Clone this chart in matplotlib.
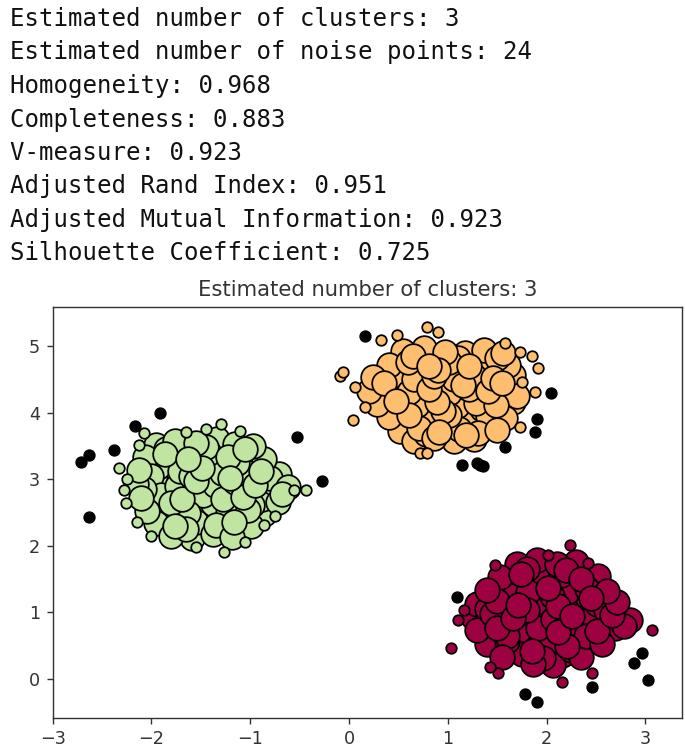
import matplotlib
matplotlib.use("Agg")
import matplotlib.pyplot as plt
import numpy as np

# ---- printed metrics ----
report_lines = [
    "Estimated number of clusters: 3",
    "Estimated number of noise points: 24",
    "Homogeneity: 0.968",
    "Completeness: 0.883",
    "V-measure: 0.923",
    "Adjusted Rand Index: 0.951",
    "Adjusted Mutual Information: 0.923",
    "Silhouette Coefficient: 0.725",
]
title = "Estimated number of clusters: 3"

# ---- cluster 0 (dark red) ----
red_core_x = [1.70, 1.90, 2.10, 2.30,
              1.53, 1.74, 1.94, 2.15, 2.35, 2.52,
              1.40, 1.60, 1.81, 2.01, 2.21, 2.41, 2.61,
              1.30, 1.50, 1.71, 1.91, 2.11, 2.31, 2.51, 2.71,
              1.25, 1.45, 1.66, 1.86, 2.06, 2.26, 2.46, 2.66, 2.84,
              1.30, 1.50, 1.71, 1.91, 2.11, 2.31, 2.51, 2.69,
              1.40, 1.60, 1.81, 2.01, 2.21, 2.41, 2.56,
              1.55, 1.75, 1.96, 2.16, 2.35,
              1.86, 2.06,
              1.80, 2.20, 1.65, 2.05, 2.45, 1.40, 1.80, 2.20, 2.60,
              1.60, 2.00, 2.40, 1.85, 2.25, 2.78, 1.35]
red_core_y = [1.73, 1.78, 1.72, 1.76,
              1.53, 1.57, 1.51, 1.56, 1.50, 1.54,
              1.33, 1.37, 1.31, 1.36, 1.30, 1.35, 1.32,
              1.13, 1.17, 1.11, 1.16, 1.10, 1.15, 1.12, 1.16,
              0.93, 0.97, 0.91, 0.96, 0.90, 0.95, 0.92, 0.96, 0.89,
              0.73, 0.77, 0.71, 0.76, 0.70, 0.75, 0.72, 0.76,
              0.53, 0.57, 0.51, 0.56, 0.50, 0.55, 0.52,
              0.33, 0.37, 0.31, 0.36, 0.32,
              0.22, 0.20,
              1.65, 1.63, 1.25, 1.25, 1.22, 1.05, 1.03, 1.05, 1.03,
              0.65, 0.63, 0.65, 0.42, 0.43, 0.80, 0.85]
red_edge_x = [2.24, 2.01, 2.42, 1.48, 1.16, 1.10, 1.03, 3.07, 2.16, 1.51, 2.46, 1.43]
red_edge_y = [2.01, 1.86, 1.74, 1.71, 1.04, 0.89, 0.47, 0.74, -0.05, 0.09, 0.08, 0.18]

# ---- cluster 1 (orange) ----
orange_core_x = [0.55, 0.76, 0.97, 1.17, 1.37, 1.56,
                 0.40, 0.60, 0.81, 1.01, 1.21, 1.41, 1.61,
                 0.24, 0.45, 0.66, 0.86, 1.06, 1.26, 1.46, 1.66,
                 0.20, 0.40, 0.61, 0.81, 1.01, 1.21, 1.41, 1.62,
                 0.28, 0.48, 0.69, 0.89, 1.09, 1.29, 1.49, 1.66,
                 0.40, 0.61, 0.81, 1.01, 1.21, 1.41, 1.58,
                 0.52, 0.71, 0.91, 1.11, 1.31, 1.50,
                 0.66, 0.86, 1.06, 1.26,
                 0.65, 1.10, 1.50, 0.35, 0.75, 1.15, 1.55, 0.55,
                 0.95, 1.35, 0.78, 1.18, 0.30, 1.70, 0.90, 1.30]
orange_core_y = [4.93, 4.98, 4.92, 4.90, 4.95, 4.90,
                 4.72, 4.77, 4.71, 4.76, 4.70, 4.75, 4.72,
                 4.53, 4.57, 4.51, 4.56, 4.50, 4.55, 4.52, 4.57,
                 4.33, 4.37, 4.31, 4.36, 4.30, 4.35, 4.32, 4.36,
                 4.13, 4.17, 4.11, 4.16, 4.10, 4.15, 4.12, 4.16,
                 3.93, 3.97, 3.91, 3.96, 3.90, 3.95, 3.92,
                 3.73, 3.77, 3.71, 3.76, 3.70, 3.74,
                 3.58, 3.62, 3.57, 3.61,
                 4.85, 4.83, 4.83, 4.45, 4.45, 4.42, 4.45, 4.05,
                 4.03, 4.05, 3.68, 3.66, 4.25, 4.25, 4.65, 4.63]
orange_edge_x = [0.79, 0.90, 0.49, 0.32, 1.58, 1.73, 1.85, 1.91, 1.75, 1.88,
                 -0.09, -0.06, 0.06, 0.04, 0.16, 1.73, 0.72, 0.79]
orange_edge_y = [5.29, 5.21, 5.17, 5.09, 5.05, 4.91, 4.86, 4.68, 4.46, 4.31,
                 4.56, 4.61, 4.38, 3.89, 4.08, 3.78, 3.39, 3.39]

# ---- cluster 2 (light green) ----
green_core_x = [-1.95, -1.76, -1.55, -1.34, -1.15, -0.97,
                -2.06, -1.86, -1.63, -1.42, -1.22, -1.03, -0.86,
                -2.13, -1.93, -1.71, -1.49, -1.29, -1.08, -0.89, -0.71,
                -2.16, -1.96, -1.74, -1.55, -1.36, -1.15, -0.95, -0.76, -0.62,
                -2.11, -1.90, -1.69, -1.48, -1.28, -1.07, -0.88, -0.72,
                -2.04, -1.84, -1.63, -1.41, -1.22, -1.02, -0.86,
                -1.95, -1.76, -1.55, -1.35, -1.16, -0.99,
                -1.80, -1.59, -1.38, -1.18,
                -1.85, -1.45, -1.05, -2.00, -1.60, -1.20, -0.80, -1.80,
                -1.38, -0.98, -1.65, -1.25, -2.08, -0.68, -1.53, -1.13]
green_core_y = [3.52, 3.58, 3.55, 3.60, 3.53, 3.50,
                3.33, 3.38, 3.31, 3.40, 3.34, 3.37, 3.30,
                3.14, 3.18, 3.12, 3.17, 3.10, 3.16, 3.12, 3.08,
                2.93, 2.97, 2.90, 2.98, 2.92, 2.96, 2.91, 2.95, 2.88,
                2.72, 2.77, 2.71, 2.76, 2.70, 2.74, 2.70, 2.66,
                2.53, 2.57, 2.50, 2.55, 2.49, 2.54, 2.47,
                2.34, 2.30, 2.36, 2.31, 2.35, 2.29,
                2.15, 2.12, 2.17, 2.13,
                3.45, 3.48, 3.45, 3.05, 3.05, 3.02, 3.02, 2.65,
                2.63, 2.62, 2.25, 2.25, 2.85, 2.78, 3.27, 3.25]
green_edge_x = [-1.30, -1.65, -2.08, -2.13, -1.45, -1.10, -2.33, -2.28, -2.26, -2.25,
                -0.56, -0.44, -0.86, -0.75, -1.27, -1.55, -2.15, -2.00, -1.05]
green_edge_y = [3.83, 3.71, 3.69, 3.51, 3.75, 3.72, 3.17, 2.84, 2.64, 3.00,
                2.84, 2.84, 2.31, 2.45, 1.91, 1.98, 2.35, 2.15, 2.05]

# ---- noise ----
noise_x = [-1.91, -2.17, -2.38, -2.63, -2.71, -2.63, -0.53, -0.27,
           0.16, 2.04, 1.90, 1.88, 1.58, 1.14, 1.30, 1.36, 1.33,
           1.09, 2.97, 2.88, 3.03, 2.46, 1.78, 1.90]
noise_y = [3.99, 3.80, 3.44, 3.36, 3.26, 2.43, 3.63, 2.97,
           5.15, 4.29, 3.90, 3.71, 3.48, 3.21, 3.24, 3.20, 3.22,
           1.23, 0.39, 0.24, -0.02, -0.12, -0.23, -0.35]

S = 1.76  # upscaling factor of the original notebook render
PT = S * 72 / 100

fig = plt.figure(figsize=(6.85, 7.56), dpi=100)
fig.patch.set_facecolor("white")

for i, line in enumerate(report_lines):
    fig.text(10 / 685, 1 - (26 + 33.5 * i) / 756, line, family="DejaVu Sans Mono",
             fontsize=17.3, color="#111111", va="baseline", ha="left")

ax = fig.add_axes([52.6 / 685, 1 - 718 / 756, (682 - 52.6) / 685, (718 - 307) / 756])


def mixed(xs, ys):
    # interleave the drawing order so overlaps look like unordered data
    n = len(xs)
    order = sorted(range(n), key=lambda i: (i * 37) % 101)
    return [xs[i] for i in order], [ys[i] for i in order]


colors = [plt.cm.Spectral(v) for v in np.linspace(0, 1, 4)]
clusters = [
    (red_core_x, red_core_y, red_edge_x, red_edge_y),
    (orange_core_x, orange_core_y, orange_edge_x, orange_edge_y),
    (green_core_x, green_core_y, green_edge_x, green_edge_y),
]
for (cx, cy, ex, ey), col in zip(clusters, colors[:3]):
    mx, my = mixed(cx, cy)
    ax.plot(mx, my, "o", markerfacecolor=col, markeredgecolor="k",
            markersize=14 * PT, markeredgewidth=1.0 * PT, linestyle="none")
    ax.plot(ex, ey, "o", markerfacecolor=col, markeredgecolor="k",
            markersize=6 * PT, markeredgewidth=1.0 * PT, linestyle="none")
ax.plot(noise_x, noise_y, "o", markerfacecolor="k", markeredgecolor="k",
        markersize=6 * PT, markeredgewidth=1.0 * PT, linestyle="none")

ax.set_xlim(-3.0, 3.37)
ax.set_ylim(-0.59, 5.59)
ax.set_xticks([-3, -2, -1, 0, 1, 2, 3])
ax.set_yticks([0, 1, 2, 3, 4, 5])
ax.tick_params(labelsize=10 * PT, length=3.5 * PT, width=0.8 * PT, pad=3.5 * PT,
               colors="#333333", labelcolor="#333333")
for s in ax.spines.values():
    s.set_linewidth(0.8 * PT)
    s.set_color("#333333")
ax.set_title(title, fontsize=12 * PT, pad=6 * PT, color="#333333")

fig.savefig("out.png", dpi=100, facecolor="white")
